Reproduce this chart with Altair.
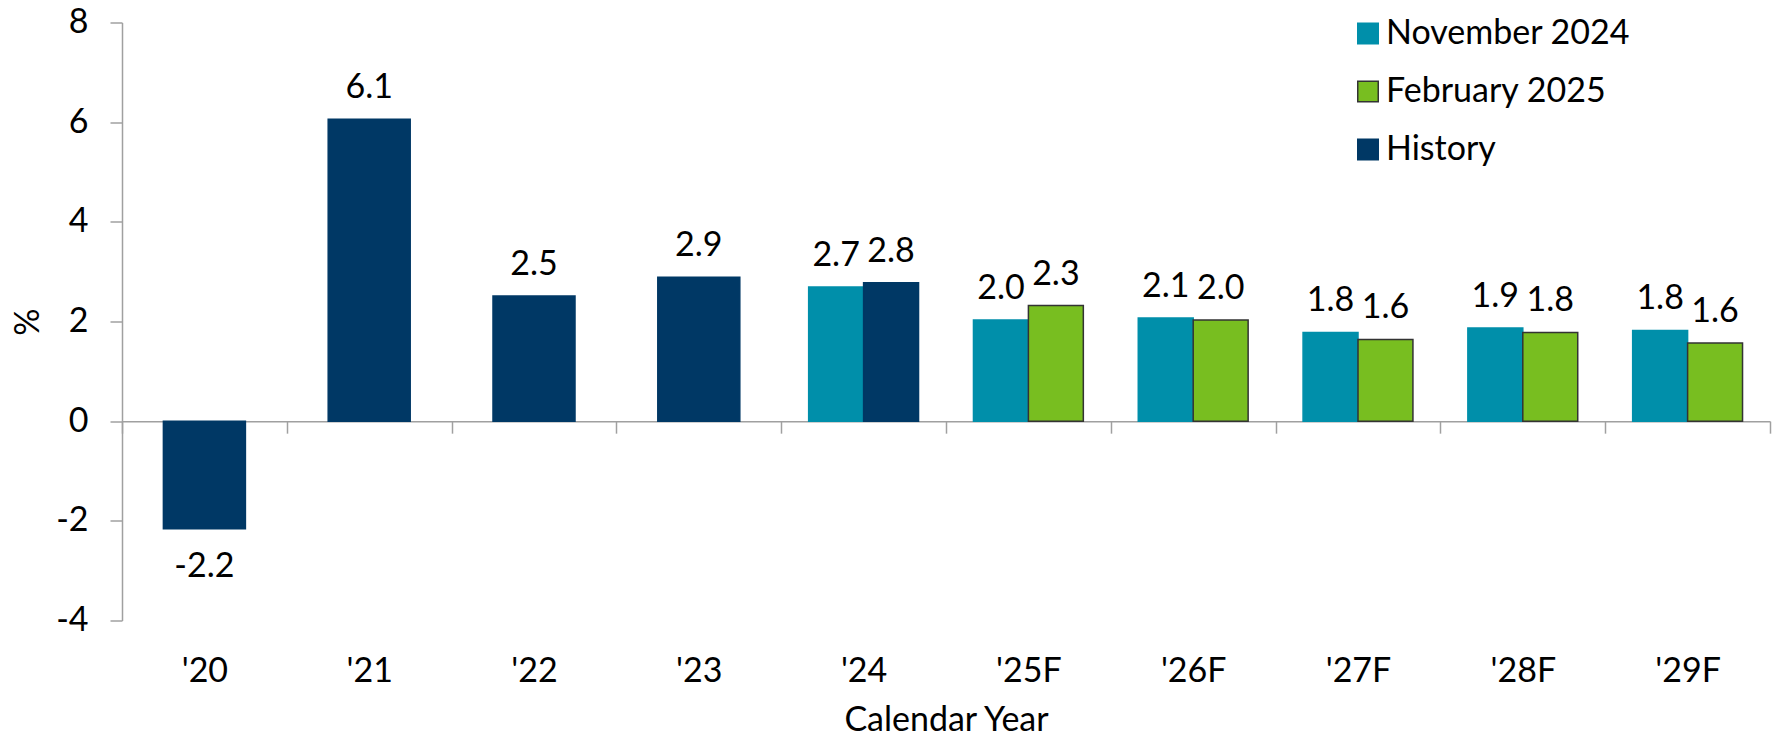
import altair as alt
import pandas as pd

# ---- data ----
years = ["'20", "'21", "'22", "'23", "'24", "'25F", "'26F", "'27F", "'28F", "'29F"]
history_years = ["'20", "'21", "'22", "'23", "'24"]
history_vals = [-2.16, 6.06, 2.51, 2.89, 2.78]
nov_years = ["'24", "'25F", "'26F", "'27F", "'28F", "'29F"]
nov_vals = [2.69, 2.03, 2.07, 1.78, 1.87, 1.82]
feb_years = ["'25F", "'26F", "'27F", "'28F", "'29F"]
feb_vals = [2.32, 2.03, 1.64, 1.78, 1.57]
series_names = ["November 2024", "February 2025", "History"]
fill_colors = ["#008FAA", "#78BE20", "#003865"]
stroke_colors = ["#008FAA", "#333333", "#003865"]
y_ticks = [-4, -2, 0, 2, 4, 6, 8]

rows = []
for yr, v in zip(nov_years, nov_vals):
    rows.append({"year": yr, "series": "November 2024", "value": v, "slot": "a"})
for yr, v in zip(feb_years, feb_vals):
    rows.append({"year": yr, "series": "February 2025", "value": v, "slot": "b"})
for yr, v in zip(history_years, history_vals):
    rows.append({"year": yr, "series": "History", "value": v, "slot": "b"})
df = pd.DataFrame(rows)
counts = df.groupby("year")["series"].transform("count")
df["paired"] = counts > 1
single = df[~df["paired"]]
paired = df[df["paired"]]

# ---- layout ----
W, H = 1648, 598
ymin, ymax = min(y_ticks), max(y_ticks)
zero_offset = -H * (0 - ymin) / (ymax - ymin)
FONT = "Lato"
FS = 34
AXIS_GREY = "#A0A0A0"
HYPHEN = "replace(datum.label, '\u2212', '-')"
LABEL_CALC = "replace(format(datum.value, '.1f'), '\u2212', '-')"

x_enc = alt.X(
    "year:N",
    sort=years,
    scale=alt.Scale(domain=years, paddingInner=0, paddingOuter=0),
    axis=alt.Axis(
        title="Calendar Year",
        offset=zero_offset,
        tickBand="extent",
        tickSize=12,
        tickWidth=1.5,
        tickColor=AXIS_GREY,
        domainColor=AXIS_GREY,
        domainWidth=1.5,
        labelPadding=248,
        labelBaseline="alphabetic",
        labelAngle=0,
        labelFont=FONT,
        labelFontSize=FS,
        labelColor="black",
        titleFont=FONT,
        titleFontSize=FS,
        titleFontWeight="normal",
        titleColor="black",
        titleY=309,
        titleBaseline="alphabetic",
    ),
)
y_enc = alt.Y(
    "value:Q",
    scale=alt.Scale(domain=[ymin, ymax], nice=False),
    axis=alt.Axis(
        values=y_ticks,
        title="%",
        grid=False,
        tickSize=12,
        tickWidth=1.5,
        tickColor=AXIS_GREY,
        domainColor=AXIS_GREY,
        domainWidth=1.5,
        labelPadding=22,
        labelExpr=HYPHEN,
        labelFont=FONT,
        labelFontSize=FS,
        labelColor="black",
        titleFont=FONT,
        titleFontSize=FS,
        titleFontWeight="normal",
        titleColor="black",
        titleX=-94,
        titleBaseline="middle",
    ),
)
legend = alt.Legend(
    title=None,
    orient="none",
    legendX=1229,
    legendY=-6,
    symbolType="square",
    symbolSize=420,
    symbolStrokeWidth=1.5,
    labelFont=FONT,
    labelFontSize=FS,
    labelColor="black",
    labelOffset=1,
    labelLimit=0,
    rowPadding=24,
    padding=0,
)
color_enc = alt.Color("series:N", scale=alt.Scale(domain=series_names, range=fill_colors), legend=legend)
stroke_enc = alt.Stroke("series:N", scale=alt.Scale(domain=series_names, range=stroke_colors), legend=legend)
xoff = alt.XOffset("slot:N", scale=alt.Scale(domain=["a", "b"], paddingInner=0, paddingOuter=0.5))

single_bars = alt.Chart(single).mark_bar(width=82, strokeWidth=1.5).encode(
    x=x_enc, y=y_enc, color=color_enc, stroke=stroke_enc
)
pair_bars = alt.Chart(paired).mark_bar(strokeWidth=1.5).encode(
    x=x_enc, xOffset=xoff, y=y_enc, color=color_enc, stroke=stroke_enc
)
txt = dict(font=FONT, fontSize=FS, color="black", baseline="alphabetic")
single_pos = (
    alt.Chart(single)
    .transform_filter("datum.value >= 0")
    .transform_calculate(lbl=LABEL_CALC)
    .mark_text(dy=-21, **txt)
    .encode(x=x_enc, y=y_enc, text="lbl:N")
)
single_neg = (
    alt.Chart(single)
    .transform_filter("datum.value < 0")
    .transform_calculate(lbl=LABEL_CALC)
    .mark_text(dy=48, **txt)
    .encode(x=x_enc, y=y_enc, text="lbl:N")
)
pair_text = (
    alt.Chart(paired)
    .transform_calculate(lbl=LABEL_CALC)
    .mark_text(dy=-21, **txt)
    .encode(x=x_enc, xOffset=xoff, y=y_enc, text="lbl:N")
)

chart = (
    alt.layer(single_bars, pair_bars, single_pos, single_neg, pair_text)
    .properties(
        width=W,
        height=H,
        autosize=alt.AutoSizeParams(type="none"),
        padding={"left": 122, "top": 22.5, "right": 7, "bottom": 117.5},
        background="white",
    )
    .configure_view(stroke=None)
)
chart.save("out.html", embed_options={"renderer": "svg", "actions": False})
